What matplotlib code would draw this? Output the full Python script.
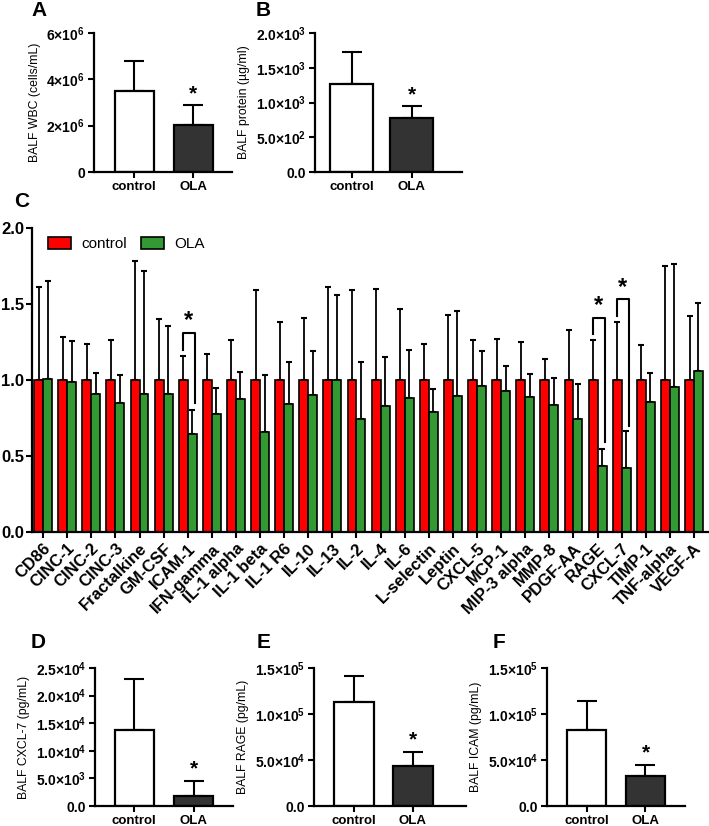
import numpy as np
import matplotlib
matplotlib.use('Agg')
import matplotlib.pyplot as plt
from matplotlib.patches import Patch

plt.rcParams['font.family'] = ['Liberation Sans', 'DejaVu Sans']
plt.rcParams['mathtext.fontset'] = 'custom'
plt.rcParams['mathtext.rm'] = 'Liberation Sans'
plt.rcParams['mathtext.bf'] = 'Liberation Sans:bold'
plt.rcParams['mathtext.it'] = 'Liberation Sans:italic'

# ---- data ----
groups = ['control', 'OLA']

wbc_mean = [3.51e6, 2.02e6]
wbc_err = [1.26e6, 0.87e6]
protein_mean = [1267, 781]
protein_err = [453, 168]
cxcl7_mean = [13680, 1877]
cxcl7_err = [9380, 2663]
rage_mean = [112600, 43580]
rage_err = [28300, 15620]
icam_mean = [82800, 32700]
icam_err = [30900, 12000]

wbc_ticks = ['0', '2×10$^{\\mathbf{6}}$', '4×10$^{\\mathbf{6}}$', '6×10$^{\\mathbf{6}}$']
protein_ticks = ['0.0', '5.0×10$^{\\mathbf{2}}$', '1.0×10$^{\\mathbf{3}}$',
                 '1.5×10$^{\\mathbf{3}}$', '2.0×10$^{\\mathbf{3}}$']
cxcl7_ticks = ['0.0', '5.0×10$^{\\mathbf{3}}$', '1.0×10$^{\\mathbf{4}}$',
               '1.5×10$^{\\mathbf{4}}$', '2.0×10$^{\\mathbf{4}}$', '2.5×10$^{\\mathbf{4}}$']
e5_ticks = ['0.0', '5.0×10$^{\\mathbf{4}}$', '1.0×10$^{\\mathbf{5}}$', '1.5×10$^{\\mathbf{5}}$']

cytokines = ['CD86', 'CINC-1', 'CINC-2', 'CINC-3', 'Fractalkine', 'GM-CSF', 'ICAM-1',
             'IFN-gamma', 'IL-1 alpha', 'IL-1 beta', 'IL-1 R6', 'IL-10', 'IL-13', 'IL-2',
             'IL-4', 'IL-6', 'L-selectin', 'Leptin', 'CXCL-5', 'MCP-1', 'MIP-3 alpha',
             'MMP-8', 'PDGF-AA', 'RAGE', 'CXCL-7', 'TIMP-1', 'TNF-alpha', 'VEGF-A']
ctrl_mean = [1.0, 1.0, 1.0, 1.0, 1.0, 1.0, 1.0, 1.0, 1.0, 1.0, 1.0, 1.0, 1.0, 1.0,
             1.0, 1.0, 1.0, 1.0, 1.0, 1.0, 1.0, 1.0, 1.0, 1.0, 1.0, 1.0, 1.0, 1.0]
ctrl_err = [0.61, 0.28, 0.24, 0.26, 0.78, 0.40, 0.16, 0.17, 0.26, 0.59, 0.38, 0.41, 0.61, 0.59,
            0.60, 0.47, 0.24, 0.43, 0.26, 0.27, 0.25, 0.14, 0.33, 0.26, 0.38, 0.23, 0.75, 0.42]
ola_mean = [1.004, 0.987, 0.906, 0.846, 0.906, 0.908, 0.643, 0.776, 0.873, 0.66, 0.84, 0.90, 1.0, 0.741,
            0.83, 0.879, 0.79, 0.895, 0.96, 0.93, 0.89, 0.833, 0.741, 0.436, 0.423, 0.855, 0.956, 1.059]
ola_err = [0.65, 0.27, 0.14, 0.19, 0.81, 0.45, 0.16, 0.17, 0.18, 0.37, 0.28, 0.29, 0.56, 0.38,
           0.32, 0.32, 0.15, 0.56, 0.23, 0.16, 0.15, 0.18, 0.23, 0.11, 0.24, 0.19, 0.81, 0.45]
# significance brackets: index, left leg bottom, bracket top, right leg bottom
sig = [(6, 1.197, 1.31, 0.846), (23, 1.30, 1.41, 0.59), (24, 1.42, 1.53, 0.70)]

RED = '#ff0000'
GREEN = '#339933'
DARK = '#333333'

fig = plt.figure(figsize=(7.09, 8.26), dpi=100)
W, H = 709.0, 826.0


def rect(x0, x1, ytop, ybot):
    return [x0 / W, 1 - ybot / H, (x1 - x0) / W, (ybot - ytop) / H]


def style(ax):
    for s in ['top', 'right']:
        ax.spines[s].set_visible(False)
    for s in ['left', 'bottom']:
        ax.spines[s].set_linewidth(1.6)
    ax.tick_params(width=1.5, length=4.5, direction='out', pad=2)


def small_panel(r, mean, err, ymax, ticks, ticklabels, ylabel, letter, lpos, xlim, width):
    ax = fig.add_axes(r)
    x = np.arange(2)
    ax.bar(x, mean, width=width, color=['white', DARK], edgecolor='black', linewidth=1.6, zorder=2)
    ax.errorbar(x, mean, yerr=[[0, 0], err], fmt='none', ecolor='black', elinewidth=1.5,
                capsize=7, capthick=1.5, zorder=1)
    ax.text(1, mean[1] + err[1] + ymax * 0.015, '*', ha='center', va='bottom',
            fontsize=15, fontweight='bold')
    ax.set_xlim(*xlim)
    ax.set_ylim(0, ymax)
    ax.set_yticks(ticks)
    ax.set_yticklabels(ticklabels, fontweight='bold', fontsize=10)
    ax.set_xticks(x)
    ax.set_xticklabels(groups, fontweight='bold', fontsize=9.5)
    ax.set_ylabel(ylabel, fontsize=8.8, labelpad=4)
    style(ax)
    fig.text(lpos[0] / W, 1 - lpos[1] / H, letter, fontsize=15, fontweight='bold', va='top')
    return ax


small_panel(rect(94, 232, 33, 172), wbc_mean, wbc_err, 6e6, [0, 2e6, 4e6, 6e6], wbc_ticks,
            'BALF WBC (cells/mL)', 'A', (31, 1), (-0.68, 1.66), 0.66)
small_panel(rect(315, 462, 33, 172), protein_mean, protein_err, 2000, [0, 500, 1000, 1500, 2000],
            protein_ticks, 'BALF protein (µg/ml)', 'B', (256, 1), (-0.61, 1.84), 0.72)
small_panel(rect(95, 233, 668, 806), cxcl7_mean, cxcl7_err, 25000,
            [0, 5000, 10000, 15000, 20000, 25000], cxcl7_ticks,
            'BALF CXCL-7 (pg/mL)', 'D', (31, 633), (-0.66, 1.66), 0.66)
small_panel(rect(314, 466, 668, 806), rage_mean, rage_err, 150000, [0, 50000, 100000, 150000],
            e5_ticks, 'BALF RAGE (pg/mL)', 'E', (257, 633), (-0.68, 1.9), 0.68)
small_panel(rect(547, 685, 668, 806), icam_mean, icam_err, 150000, [0, 50000, 100000, 150000],
            e5_ticks, 'BALF ICAM (pg/mL)', 'F', (493, 633), (-0.67, 1.67), 0.66)

# ---- panel C ----
axc = fig.add_axes(rect(32, 708, 228, 532))
n = len(cytokines)
xc = np.arange(n)
bw = 0.37
axc.bar(xc - bw / 2, ctrl_mean, width=bw, color=RED, edgecolor='black', linewidth=1.2, zorder=2)
axc.bar(xc + bw / 2, ola_mean, width=bw, color=GREEN, edgecolor='black', linewidth=1.2, zorder=2)
axc.errorbar(xc - bw / 2, ctrl_mean, yerr=[np.zeros(n), ctrl_err], fmt='none', ecolor='black',
             elinewidth=1.3, capsize=2.2, capthick=1.5, zorder=1)
axc.errorbar(xc + bw / 2, ola_mean, yerr=[np.zeros(n), ola_err], fmt='none', ecolor='black',
             elinewidth=1.3, capsize=2.2, capthick=1.5, zorder=1)
for i, lb, top, rb in sig:
    xl, xr = i - 0.2, i + 0.3
    axc.plot([xl, xl, xr, xr], [lb, top, top, rb], color='black', lw=1.5, zorder=3)
    axc.text((xl + xr) / 2, top + 0.005, '*', ha='center', va='bottom', fontsize=17, fontweight='bold')
axc.set_xlim(-0.46, n - 1 + 0.58)
axc.set_ylim(0, 2.0)
axc.set_yticks([0, 0.5, 1.0, 1.5, 2.0])
axc.set_yticklabels(['0.0', '0.5', '1.0', '1.5', '2.0'], fontweight='bold', fontsize=12)
axc.set_xticks(xc)
axc.set_xticklabels(cytokines, rotation=45, ha='right', rotation_mode='anchor',
                    fontweight='bold', fontsize=12)
style(axc)
axc.tick_params(axis='y', pad=1)
handles = [Patch(facecolor=RED, edgecolor='black', linewidth=1.2, label='control'),
           Patch(facecolor=GREEN, edgecolor='black', linewidth=1.2, label='OLA')]
axc.legend(handles=handles, loc='upper left', ncol=2, frameon=False, fontsize=11,
           handlelength=1.5, handleheight=0.8, columnspacing=0.9, handletextpad=0.7,
           borderaxespad=0.2, bbox_to_anchor=(0.01, 1.0))
fig.text(14 / W, 1 - 192 / H, 'C', fontsize=15, fontweight='bold', va='top')

fig.savefig('out.png', dpi=100)
